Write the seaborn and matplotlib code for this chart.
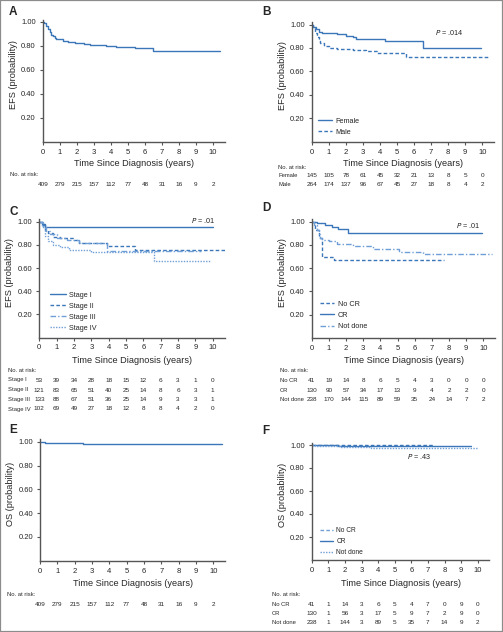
import numpy as np
import pandas as pd
import matplotlib
matplotlib.use("Agg")
import matplotlib.pyplot as plt
import matplotlib.transforms as mtransforms
from matplotlib.patches import Rectangle
from matplotlib.lines import Line2D
import seaborn as sns

# ---- data ----
years = list(range(11))

# A: EFS, all patients
a_t = [0, 0.1, 0.2, 0.3, 0.4, 0.5, 0.6, 0.7, 0.8, 1.0, 1.2, 1.5, 1.9, 2.4, 2.8, 3.7, 4.3, 5.4, 6.5, 10.4]
a_s = [1.0, 0.99, 0.97, 0.94, 0.915, 0.895, 0.88, 0.87, 0.86, 0.855, 0.845, 0.835, 0.825, 0.815, 0.81, 0.80, 0.79, 0.78, 0.755, 0.755]
a_risk = [409, 279, 215, 157, 112, 77, 48, 31, 16, 9, 2]

# B: EFS by sex
female_t = [0, 0.1, 0.25, 0.4, 0.6, 1.5, 2.0, 2.4, 2.6, 4.3, 6.5, 9.95]
female_s = [1.0, 0.98, 0.96, 0.94, 0.925, 0.915, 0.905, 0.89, 0.876, 0.86, 0.80, 0.80]
male_t = [0, 0.1, 0.2, 0.3, 0.4, 0.5, 0.7, 1.0, 1.5, 2.4, 3.2, 3.8, 5.5, 10.45]
male_s = [1.0, 0.97, 0.93, 0.89, 0.86, 0.845, 0.82, 0.80, 0.79, 0.78, 0.775, 0.755, 0.725, 0.725]
female_risk = [145, 105, 78, 61, 45, 32, 21, 13, 8, 5, 0]
male_risk = [264, 174, 137, 96, 67, 45, 27, 18, 8, 4, 2]

# C: EFS by stage
st1_t = [0, 0.15, 0.3, 10.0]
st1_s = [1.0, 0.98, 0.957, 0.957]
st2_t = [0, 0.2, 0.35, 0.5, 0.8, 1.2, 2.0, 2.3, 3.9, 5.5, 10.8]
st2_s = [1.0, 0.97, 0.93, 0.90, 0.87, 0.86, 0.84, 0.82, 0.79, 0.757, 0.757]
st3_t = [0, 0.2, 0.4, 0.6, 1.0, 1.6, 2.3, 3.9, 9.3]
st3_s = [1.0, 0.96, 0.92, 0.89, 0.86, 0.845, 0.815, 0.743, 0.743]
st4_t = [0, 0.15, 0.3, 0.5, 0.8, 1.2, 1.7, 3.0, 6.6, 9.9]
st4_s = [1.0, 0.95, 0.88, 0.83, 0.80, 0.78, 0.757, 0.74, 0.66, 0.66]
st1_risk = [53, 39, 34, 28, 18, 15, 12, 6, 3, 1, 0]
st2_risk = [121, 83, 65, 51, 40, 25, 14, 8, 6, 3, 1]
st3_risk = [133, 88, 67, 51, 36, 25, 14, 9, 3, 3, 1]
st4_risk = [102, 69, 49, 27, 18, 12, 8, 8, 4, 2, 0]

# D: EFS by response
nocr_t = [0, 0.2, 0.4, 0.6, 1.3, 7.7]
nocr_s = [1.0, 0.93, 0.86, 0.70, 0.667, 0.667]
cr_t = [0, 0.3, 0.8, 1.2, 1.55, 2.1, 9.95]
cr_s = [1.0, 0.99, 0.97, 0.955, 0.94, 0.90, 0.90]
nd_t = [0, 0.15, 0.3, 0.4, 0.5, 0.6, 1.0, 1.5, 2.4, 3.6, 5.1, 6.5, 10.5]
nd_s = [1.0, 0.97, 0.93, 0.89, 0.86, 0.84, 0.83, 0.81, 0.79, 0.767, 0.74, 0.72, 0.72]
nocr_risk = [41, 19, 14, 8, 6, 5, 4, 3, 0, 0, 0]
cr_risk = [130, 90, 57, 34, 17, 13, 9, 4, 2, 2, 0]
nd_risk = [238, 170, 144, 115, 89, 59, 35, 24, 14, 7, 2]

# E: OS, all patients
e_t = [0, 0.3, 1.5, 2.5, 4.0, 10.5]
e_s = [1.0, 0.992, 0.988, 0.983, 0.977, 0.977]

# F: OS by response
os_nocr_t = [0, 7.3]
os_nocr_s = [1.0, 1.0]
os_cr_t = [0, 1.6, 9.6]
os_cr_s = [1.0, 0.99, 0.99]
os_nd_t = [0, 0.2, 1.7, 3.6, 10.0]
os_nd_s = [1.0, 0.99, 0.985, 0.972, 0.972]
os_nocr_risk = [41, 1, 14, 3, 6, 5, 4, 7, 0, 9, 0]
os_cr_risk = [130, 1, 56, 3, 17, 5, 9, 7, 2, 9, 0]
os_nd_risk = [238, 1, 144, 3, 89, 5, 35, 7, 14, 9, 2]

# ---- styling ----
sns.set_style("ticks")
plt.rcParams["font.family"] = ["Liberation Sans", "DejaVu Sans"]
BLUE = "#3b76b8"
LIGHT = "#6f9fd6"
SOLID = "-"
DASH = (0, (2.6, 1.6))
DASHDOT = (0, (4, 1.5, 1, 1.5))
DOT = (0, (1, 1))
TABLE_FS = 4.6
ROWLAB_FS = 4.2

W, H = 503, 632
fig = plt.figure(figsize=(W / 100, H / 100), dpi=100)


def fx(px):
    return px / W


def fy(py):
    return 1 - py / H


def make_axes(x0, y0, y1, xs, xmax=10.7, ytop=1.02):
    # x0: pixel of t=0, y0: pixel of prob=0, y1: pixel of prob=1, xs: pixels per year
    top = y0 - ytop * (y0 - y1)
    ax = fig.add_axes([fx(x0), fy(y0), xs * xmax / W, (y0 - top) / H])
    ax.set_xlim(0, xmax)
    ax.set_ylim(0, ytop)
    ax.set_xticks(years)
    ax.set_xticklabels([str(y) for y in years])
    ax.set_yticks([0.2, 0.4, 0.6, 0.8, 1.0])
    ax.set_yticklabels(["0.20", "0.40", "0.60", "0.80", "1.00"])
    ax.tick_params(labelsize=5.5, length=2.5, width=0.8, color="#555555", pad=2.5)
    sns.despine(ax=ax)
    for s in ["left", "bottom"]:
        ax.spines[s].set_color("#555555")
        ax.spines[s].set_linewidth(1.0)
    return ax, top


def curve(ax, t, s, style, color=BLUE):
    df = pd.DataFrame({"t": t, "s": s})
    sns.lineplot(data=df, x="t", y="s", ax=ax, drawstyle="steps-post", color=color,
                 linestyle=style, linewidth=1.0, estimator=None)


def labels(ax, ylab, x0, y0, top, xr, xlab_py):
    ax.set_xlabel("Time Since Diagnosis (years)", fontsize=6.6)
    ax.xaxis.set_label_coords(fx((x0 + xr) / 2), fy(xlab_py), transform=fig.transFigure)
    ax.set_ylabel(ylab, fontsize=6.6)
    ax.yaxis.set_label_coords(fx(x0 - 25), fy((y0 + top) / 2 - 6), transform=fig.transFigure)


def risk_table(ax, title_py, rows, label_px):
    trans = mtransforms.blended_transform_factory(ax.transData, fig.transFigure)
    fig.text(fx(label_px), fy(title_py), "No. at risk:", fontsize=ROWLAB_FS, va="center", ha="left")
    for name, vals, py in rows:
        if name:
            fig.text(fx(label_px), fy(py), name, fontsize=ROWLAB_FS, va="center", ha="left")
        for yr, v in zip(years, vals):
            ax.text(yr, fy(py), str(v), transform=trans, fontsize=TABLE_FS, ha="center", va="center")


def panel_letter(px, py, letter):
    fig.text(fx(px), fy(py), letter, fontsize=8.5, fontweight="bold", ha="left", va="center")


def add_legend(ax, entries, px, py, fs=5.2, hl=2.0, spacing=0.6):
    handles = [Line2D([0], [0], color=c, linestyle=ls, linewidth=1.0, label=lab) for lab, ls, c in entries]
    ax.legend(handles=handles, loc="upper left", bbox_to_anchor=(fx(px), fy(py)),
              bbox_transform=fig.transFigure, frameon=False, fontsize=fs, borderpad=0,
              borderaxespad=0, handlelength=hl, handletextpad=0.45, labelspacing=spacing)


# ---- A ----
ax, top = make_axes(42.7, 141.7, 22, 17.03)
curve(ax, a_t, a_s, SOLID)
labels(ax, "EFS (probability)", 42.7, 141.7, top, 42.7 + 10.7 * 17.03, 158.5)
risk_table(ax, 174.3, [("", a_risk, 184.3)], 10)
panel_letter(9, 12, "A")

# ---- B ----
ax, top = make_axes(311.7, 141.7, 24.5, 17.06)
curve(ax, female_t, female_s, SOLID)
curve(ax, male_t, male_s, DASH)
ax.text(8.05, 0.933, "$P$ = .014", fontsize=5.2, ha="center", va="center")
labels(ax, "EFS (probability)", 311.7, 141.7, top, 311.7 + 10.7 * 17.06, 159)
add_legend(ax, [("Female", SOLID, BLUE), ("Male", DASH, BLUE)], 318, 117.5)
risk_table(ax, 167.7, [("Female", female_risk, 176), ("Male", male_risk, 184.3)], 278.3)
panel_letter(262, 12, "B")

# ---- C ----
ax, top = make_axes(39.3, 337.5, 221.7, 17.34)
curve(ax, st1_t, st1_s, SOLID)
curve(ax, st2_t, st2_s, DASH)
curve(ax, st3_t, st3_s, DASHDOT, LIGHT)
curve(ax, st4_t, st4_s, DOT, LIGHT)
ax.text(9.46, 1.008, "$P$ = .01", fontsize=5.2, ha="center", va="center")
labels(ax, "EFS (probability)", 39.3, 337.5, top, 39.3 + 10.7 * 17.34, 356)
add_legend(ax, [("Stage I", SOLID, BLUE), ("Stage II", DASH, BLUE),
                ("Stage III", DASHDOT, LIGHT), ("Stage IV", DOT, LIGHT)], 50, 291.5, hl=2.2, spacing=0.55)
risk_table(ax, 371, [("Stage I", st1_risk, 380), ("Stage II", st2_risk, 390),
                     ("Stage III", st3_risk, 399.5), ("Stage IV", st4_risk, 409)], 8.3)
panel_letter(9, 212, "C")

# ---- D ----
ax, top = make_axes(311.7, 337.7, 221.7, 17.16)
curve(ax, nocr_t, nocr_s, DASH)
curve(ax, cr_t, cr_s, SOLID)
curve(ax, nd_t, nd_s, DASHDOT, LIGHT)
ax.text(9.1, 0.97, "$P$ = .01", fontsize=5.2, ha="center", va="center")
labels(ax, "EFS (probability)", 311.7, 337.7, top, 311.7 + 10.7 * 17.16, 356)
add_legend(ax, [("No CR", DASH, BLUE), ("CR", SOLID, BLUE), ("Not done", DASHDOT, LIGHT)], 320, 300.5)
risk_table(ax, 371, [("No CR", nocr_risk, 380), ("CR", cr_risk, 390),
                     ("Not done", nd_risk, 399.5)], 280)
panel_letter(262, 208, "D")

# ---- E ----
ax, top = make_axes(40, 560.7, 441.7, 17.33)
curve(ax, e_t, e_s, SOLID)
labels(ax, "OS (probability)", 40, 560.7, top, 40 + 10.7 * 17.33, 578.5)
risk_table(ax, 594.3, [("", a_risk, 604)], 7.3)
panel_letter(9, 430, "E")

# ---- F ----
ax, top = make_axes(311.7, 560, 445, 16.6)
curve(ax, os_nocr_t, os_nocr_s, DASH)
curve(ax, os_cr_t, os_cr_s, SOLID)
curve(ax, os_nd_t, os_nd_s, DOT, LIGHT)
ax.text(6.5, 0.897, "$P$ = .43", fontsize=5.2, ha="center", va="center")
labels(ax, "OS (probability)", 311.7, 560, top, 311.7 + 10.7 * 16.6, 578.5)
add_legend(ax, [("No CR", DASH, LIGHT), ("CR", SOLID, BLUE), ("Not done", DOT, LIGHT)], 320, 527,
           fs=4.8, spacing=0.6)
risk_table(ax, 595, [("No CR", os_nocr_risk, 604), ("CR", os_cr_risk, 613.3),
                     ("Not done", os_nd_risk, 622.7)], 271.7)
panel_letter(262, 431, "F")

# grey frame around the figure
fig.patches.append(Rectangle((0, 0), 1, 1, transform=fig.transFigure, fill=False,
                             edgecolor="#8c8c8c", linewidth=1.6))

fig.savefig("out.png", dpi=100, facecolor="white")
